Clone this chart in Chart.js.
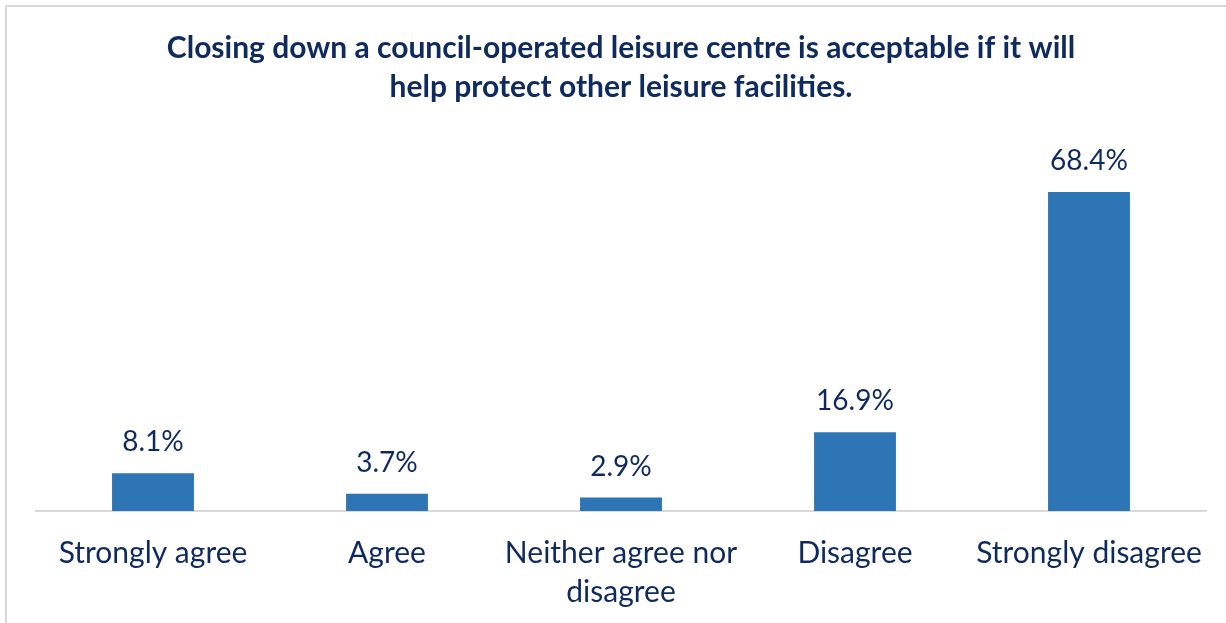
<!DOCTYPE html>
<html>
<head>
<meta charset="utf-8">
<script src="https://cdn.jsdelivr.net/npm/chart.js@4/dist/chart.umd.min.js"></script>
<style>
  html, body { margin: 0; padding: 0; background: #fff; overflow: hidden; }
  #frame {
    position: absolute; left: 5px; top: 5px; width: 1260px; height: 660px;
    border: 2px solid #d9d9d9; box-sizing: border-box;
  }
  #wrap { position: absolute; left: 0; top: 0; width: 1226px; height: 623px; }
</style>
</head>
<body>
<div id="frame"></div>
<div id="wrap"><canvas id="chart"></canvas></div>
<script>
const titleLines = [
  'Closing down a council-operated leisure centre is acceptable if it will',
  'help protect other leisure facilities.'
];
const categories = [
  'Strongly agree',
  'Agree',
  ['Neither agree nor', 'disagree'],
  'Disagree',
  'Strongly disagree'
];
const percentages = [8.1, 3.7, 2.9, 16.9, 68.4];

const navy = '#0f2a5f';
const barBlue = '#2e75b6';
const fontFamily = 'Lato, "Open Sans", sans-serif';

// writes the percentage above each bar
const valueLabels = {
  id: 'valueLabels',
  afterDatasetsDraw(chart) {
    const c = chart.ctx;
    const meta = chart.getDatasetMeta(0);
    c.save();
    c.font = '28px ' + fontFamily;
    c.fillStyle = navy;
    c.textAlign = 'center';
    c.textBaseline = 'middle';
    meta.data.forEach((bar, i) => {
      c.fillText(percentages[i].toFixed(1) + '%', bar.x, bar.y - 31);
    });
    c.restore();
  }
};

new Chart(document.getElementById('chart'), {
  type: 'bar',
  data: {
    labels: categories,
    datasets: [{
      data: percentages,
      backgroundColor: barBlue,
      borderWidth: 0,
      barPercentage: 0.35,
      categoryPercentage: 1
    }]
  },
  options: {
    responsive: true,
    maintainAspectRatio: false,
    animation: false,
    events: [],
    layout: { padding: { top: 29, left: 36, right: 20, bottom: 0 } },
    plugins: {
      legend: { display: false },
      tooltip: { enabled: false },
      title: {
        display: true,
        text: titleLines,
        color: navy,
        font: { family: fontFamily, size: 30, weight: 'bold', lineHeight: 1.3 },
        padding: { top: 0, bottom: 31 }
      }
    },
    scales: {
      x: {
        grid: { display: false },
        border: { display: true, color: '#d9d9d9', width: 2 },
        ticks: {
          color: navy,
          padding: 15,
          maxRotation: 0,
          autoSkip: false,
          font: { family: fontFamily, size: 30, lineHeight: 1.3 }
        },
        // fixed band under the axis for the two-line labels
        afterFit(scale) { scale.height = 112; }
      },
      y: {
        display: false,
        min: 0,
        max: 80
      }
    }
  },
  plugins: [valueLabels]
});
</script>
</body>
</html>
